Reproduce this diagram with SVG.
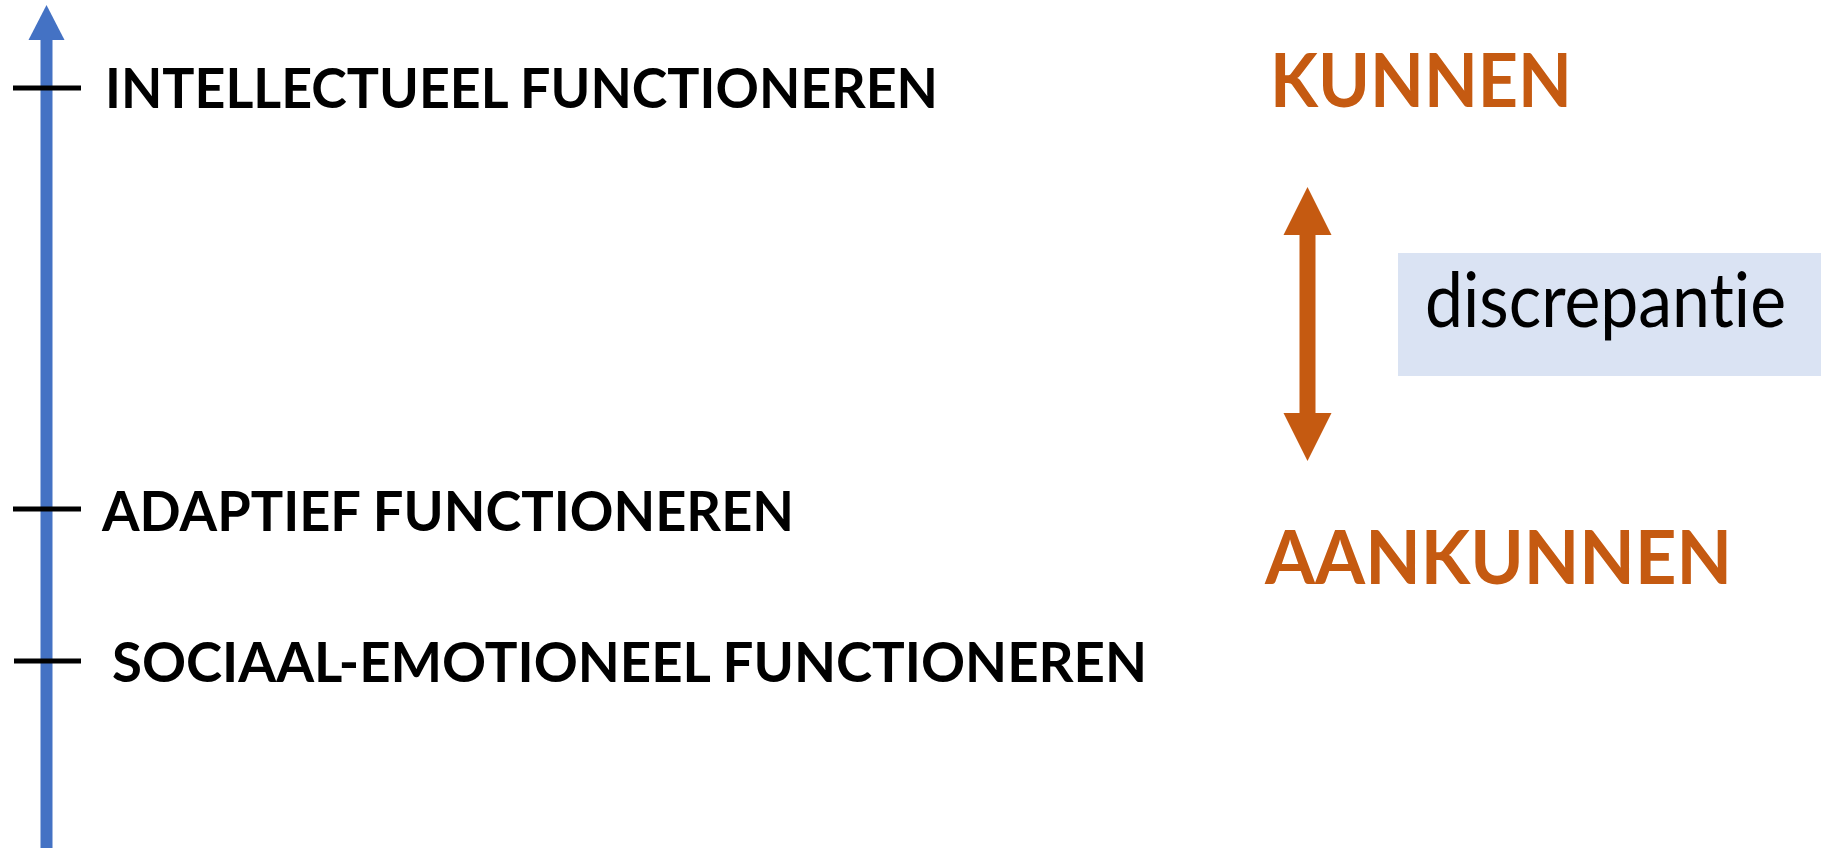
<svg xmlns="http://www.w3.org/2000/svg" width="1821" height="848" viewBox="0 0 1821 848">
  <style>
    text { font-variant-ligatures: none; font-feature-settings: "liga" 0, "dlig" 0; }
    .label { font-family: Lato, "Open Sans", "Liberation Sans", sans-serif; font-weight: 700; font-size: 55.5px; fill: #000000; }
    .big { font-family: Lato, "Open Sans", "Liberation Sans", sans-serif; font-weight: 700; font-size: 75px; fill: #C55A11; }
    .note { font-family: Lato, "Open Sans", "Liberation Sans", sans-serif; font-weight: 400; font-size: 75px; fill: #000000; }
    .tick { stroke: #000000; stroke-width: 5; }
  </style>
  <rect width="1821" height="848" fill="#ffffff"/>

  <!-- vertical axis with arrowhead -->
  <g id="axis">
    <rect x="40.5" y="39" width="12" height="809" fill="#4472C4"/>
    <polygon points="46.5,5 64.5,40 28.5,40" fill="#4472C4"/>
  </g>

  <g id="connectors">
    <line class="tick" x1="13" y1="88" x2="81" y2="88"/>
    <line class="tick" x1="13" y1="509" x2="81" y2="509"/>
    <line class="tick" x1="14" y1="661" x2="81" y2="661"/>
    <!-- double-headed arrow between the two levels -->
    <g id="gap-arrow" fill="#C55A11">
      <rect x="1299.5" y="234" width="16" height="180"/>
      <polygon points="1307.5,187 1331.5,235 1283.5,235"/>
      <polygon points="1307.5,461 1331.5,413 1283.5,413"/>
    </g>
  </g>

  <g id="intellectueel">
    <text class="label" x="105" y="108" textLength="833" lengthAdjust="spacingAndGlyphs">INTELLECTUEEL FUNCTIONEREN</text>
  </g>
  <g id="adaptief">
    <text class="label" x="102" y="531" textLength="692" lengthAdjust="spacingAndGlyphs">ADAPTIEF FUNCTIONEREN</text>
  </g>
  <g id="sociaal-emotioneel">
    <text class="label" x="112" y="682" textLength="1035" lengthAdjust="spacingAndGlyphs">SOCIAAL-EMOTIONEEL FUNCTIONEREN</text>
  </g>

  <g id="kunnen">
    <text class="big" x="1270" y="107" textLength="302" lengthAdjust="spacingAndGlyphs">KUNNEN</text>
  </g>
  <g id="aankunnen">
    <text class="big" x="1265" y="584" textLength="467" lengthAdjust="spacingAndGlyphs">AANKUNNEN</text>
  </g>

  <g id="discrepantie">
    <rect x="1398" y="253" width="423" height="123" fill="#DAE3F3"/>
    <text class="note" x="1425" y="327" textLength="361" lengthAdjust="spacingAndGlyphs">discrepantie</text>
  </g>
</svg>
